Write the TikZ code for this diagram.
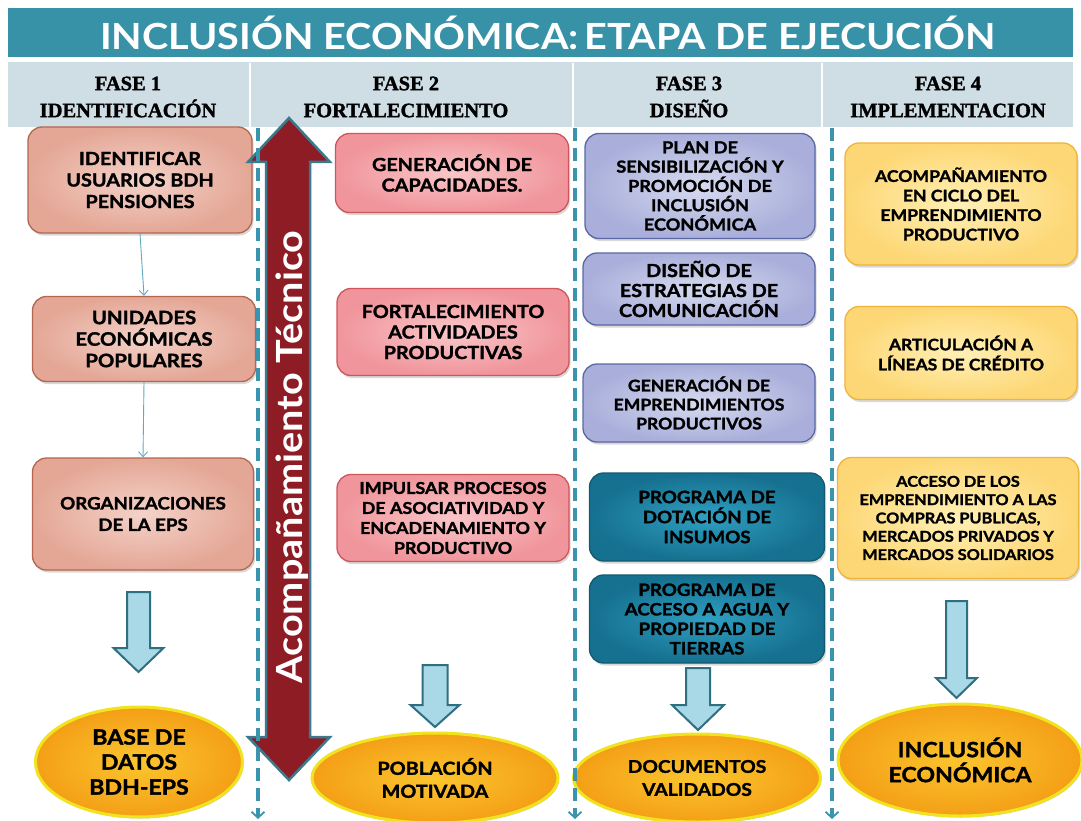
\documentclass[tikz,border=0pt]{standalone}
\usepackage{fontspec}
\setmainfont{Liberation Serif}[BoldFeatures={FakeBold=1.5}]
\newfontfamily\gill[FakeStretch=1.1, BoldFeatures={FakeBold=1.6}]{Lato}
\newfontfamily\gilltitle[FakeStretch=1.1]{Lato}
\usetikzlibrary{shapes.geometric,arrows.meta,shadows}
\definecolor{titleteal}{HTML}{3792A8}
\definecolor{band}{HTML}{CFDDE4}
\definecolor{dashc}{HTML}{3A94AE}
\definecolor{salmonIn}{HTML}{F4D2C8}
\definecolor{salmonOut}{HTML}{E4A796}
\definecolor{salmonDr}{HTML}{B4664F}
\definecolor{pinkIn}{HTML}{FAC6C9}
\definecolor{pinkOut}{HTML}{F0959B}
\definecolor{pinkDr}{HTML}{D0565D}
\definecolor{lavIn}{HTML}{D6DAF0}
\definecolor{lavOut}{HTML}{A9AFDA}
\definecolor{lavDr}{HTML}{5A67A3}
\definecolor{tealIn}{HTML}{2E9FC2}
\definecolor{tealOut}{HTML}{16708F}
\definecolor{tealDr}{HTML}{125A70}
\definecolor{yelIn}{HTML}{FFF0B6}
\definecolor{yelOut}{HTML}{FDD775}
\definecolor{yelDr}{HTML}{EFB53A}
\definecolor{ellIn}{HTML}{FBC52E}
\definecolor{ellOut}{HTML}{F49F16}
\definecolor{ellDr}{HTML}{F2E320}
\definecolor{arrFill}{HTML}{A9D8E6}
\definecolor{arrDr}{HTML}{2F6F82}
\definecolor{redArr}{HTML}{8E1C24}
\definecolor{redDr}{HTML}{3A7A8C}
\newcommand\blockarr[6]{\filldraw[barrow] ({#1-#5},#2) -- ({#1+#5},#2) -- ({#1+#5},#3) -- ({#1+#6},#3) -- (#1,#4) -- ({#1-#6},#3) -- ({#1-#5},#3) -- cycle;}
\tikzset{
  fs/.style 2 args={font=\gill\bfseries\fontsize{#1}{#2}\selectfont},
  boxbase/.style={rounded corners=14pt, line width=1.3pt, align=center, inner sep=0pt, text=black,
     fs={17}{20.5},
     drop shadow={shadow xshift=1.5pt, shadow yshift=-2.5pt, opacity=0.3}},
  salmonbox/.style={boxbase, draw=salmonDr, inner color=salmonIn, outer color=salmonOut},
  pinkbox/.style={boxbase, draw=pinkDr, inner color=pinkIn, outer color=pinkOut},
  lavbox/.style={boxbase, draw=lavDr, inner color=lavIn, outer color=lavOut},
  tealbox/.style={boxbase, draw=tealDr, inner color=tealIn, outer color=tealOut},
  yelbox/.style={boxbase, draw=yelDr, inner color=yelIn, outer color=yelOut},
  ell/.style={ellipse, draw=ellDr, line width=3pt, inner color=ellIn, outer color=ellOut, align=center, inner sep=0pt,
     text=black, drop shadow={shadow xshift=1pt, shadow yshift=-1.5pt, opacity=0.45}},
  fase/.style={align=center, font=\bfseries\fontsize{20.5}{27}\selectfont, text=black},
  barrow/.style={fill=arrFill, draw=arrDr, line width=2pt, line join=miter},
  thinarrow/.style={draw=dashc!80, line width=0.9pt, -{Straight Barb[length=5pt,width=9pt]}},
  dashline/.style={draw=dashc, line width=3.2pt, dash pattern=on 13pt off 7pt,
     -{Straight Barb[length=6pt,width=13pt,line width=1.8pt]}},
}
\begin{document}
\begin{tikzpicture}[x=1pt,y=-1pt]
\useasboundingbox (0,0) rectangle (1081,821);
\fill[white] (0,0) rectangle (1081,821);
% title
\fill[titleteal] (8,8) rectangle (1073,57);
\node[inner sep=0pt, text=white, font=\gilltitle\bfseries\fontsize{36}{36}\selectfont] (title) at (548,32.5) {INCLUSIÓN ECONÓMICA:\,ETAPA DE EJECUCIÓN};
% header band
\fill[band] (8,62.5) rectangle (1073,127.5);
\draw[white, line width=1.5pt] (250,63) -- (250,128);
\draw[white, line width=1.5pt] (573,63) -- (573,128);
\draw[white, line width=1.5pt] (822,63) -- (822,128);
\node[fase] (f1) at (128,97) {FASE 1\\IDENTIFICACIÓN};
\node[fase] (f2) at (406,97) {FASE 2\\FORTALECIMIENTO};
\node[fase] (f3) at (689,97) {FASE 3\\DISEÑO};
\node[fase] (f4) at (948,97) {FASE 4\\IMPLEMENTACION};
% column 1
\node[salmonbox, fs={18}{21.5}, minimum width=224pt, minimum height=106pt] (b11) at (140,180) {IDENTIFICAR\\USUARIOS BDH\\PENSIONES};
\node[salmonbox, fs={18.5}{21.5}, minimum width=223pt, minimum height=85pt] (b12) at (144,339) {UNIDADES\\ECONÓMICAS\\POPULARES};
\node[salmonbox, fs={17}{21.5}, minimum width=221pt, minimum height=112pt] (b13) at (143,514) {ORGANIZACIONES\\DE LA EPS};
\draw[thinarrow] (b11.south) -- (b12.north);
\draw[thinarrow] (b12.south) -- (b13.north);
\blockarr{138.5}{592}{648}{672}{11.5}{25}
\node[ell, fs={21}{25}, minimum width=207pt, minimum height=110pt] (e1) at (139,762) {BASE DE\\DATOS\\BDH-EPS};
% column 2
\node[pinkbox, fs={18}{20.5}, minimum width=233pt, minimum height=79pt] (b21) at (452,173) {GENERACIÓN DE\\CAPACIDADES.};
\node[pinkbox, fs={18}{20.5}, minimum width=232pt, minimum height=87pt] (b22) at (453,332) {FORTALECIMIENTO\\ACTIVIDADES\\PRODUCTIVAS};
\node[pinkbox, fs={16.3}{20}, minimum width=232pt, minimum height=87pt] (b23) at (453,518) {IMPULSAR PROCESOS\\DE ASOCIATIVIDAD Y\\ENCADENAMIENTO Y\\PRODUCTIVO};
\blockarr{435}{665}{705}{727}{12.5}{24.5}
\node[ell, fs={18}{23}, minimum width=246pt, minimum height=90pt] (e2) at (435,778) {POBLACIÓN\\MOTIVADA};
% column 3
\node[lavbox, fs={16.5}{19.3}, minimum width=230pt, minimum height=105pt] (b31) at (700,186) {PLAN DE\\SENSIBILIZACIÓN Y\\PROMOCIÓN DE\\INCLUSIÓN\\ECONÓMICA};
\node[lavbox, fs={18}{20}, minimum width=232pt, minimum height=72pt] (b32) at (699,289) {DISEÑO DE\\ESTRATEGIAS DE\\COMUNICACIÓN};
\node[lavbox, fs={16}{19}, minimum width=232pt, minimum height=78pt] (b33) at (699,403) {GENERACIÓN DE\\EMPRENDIMIENTOS\\PRODUCTIVOS};
\node[tealbox, fs={17}{20}, minimum width=235pt, minimum height=88pt] (b34) at (707,517) {PROGRAMA DE\\DOTACIÓN DE\\INSUMOS};
\node[tealbox, fs={17}{19.5}, minimum width=235pt, minimum height=88pt] (b35) at (707,619) {PROGRAMA DE\\ACCESO A AGUA Y\\PROPIEDAD DE\\TIERRAS};
\blockarr{698}{668}{705}{730}{12}{26}
\node[ell, fs={17.5}{23}, minimum width=247pt, minimum height=88pt] (e3) at (697,778) {DOCUMENTOS\\VALIDADOS};
% column 4
\node[yelbox, fs={16}{19.5}, minimum width=232pt, minimum height=122pt] (b41) at (961,204) {ACOMPAÑAMIENTO\\EN CICLO DEL\\EMPRENDIMIENTO\\PRODUCTIVO};
\node[yelbox, fs={15.8}{20}, minimum width=232pt, minimum height=93pt] (b42) at (961,353) {ARTICULACIÓN A\\LÍNEAS DE CRÉDITO};
\node[yelbox, fs={14.8}{18.3}, minimum width=241pt, minimum height=121pt] (b43) at (958,518) {ACCESO DE LOS\\EMPRENDIMIENTO A LAS\\COMPRAS PUBLICAS,\\MERCADOS PRIVADOS Y\\MERCADOS SOLIDARIOS};
\blockarr{956.5}{601}{678}{698}{10.5}{20.5}
\node[ell, fs={21}{25}, minimum width=244pt, minimum height=112pt] (e4) at (960,760) {INCLUSIÓN\\ECONÓMICA};
% red double arrow
\filldraw[fill=redArr, draw=redDr, line width=2.5pt, line join=miter]
  (289,118) -- (330,162) -- (310,162) -- (310,737) -- (330,737) -- (289,780)
  -- (248,737) -- (266,737) -- (266,162) -- (248,162) -- cycle;
\node[rotate=90, anchor=base, text=white, inner sep=0pt, font=\gilltitle\bfseries\fontsize{36}{36}\selectfont] (acomp) at (302,457) {Acompañamiento Técnico};
% dashed column lines
\coordinate (d1t) at (258,128); \coordinate (d1b) at (258,819);
\coordinate (d2t) at (575,128); \coordinate (d2b) at (575,819);
\coordinate (d3t) at (832,128); \coordinate (d3b) at (832,819);
\draw[dashline] (d1t) -- (d1b);
\draw[dashline] (d2t) -- (d2b);
\draw[dashline] (d3t) -- (d3b);
\end{tikzpicture}
\end{document}
